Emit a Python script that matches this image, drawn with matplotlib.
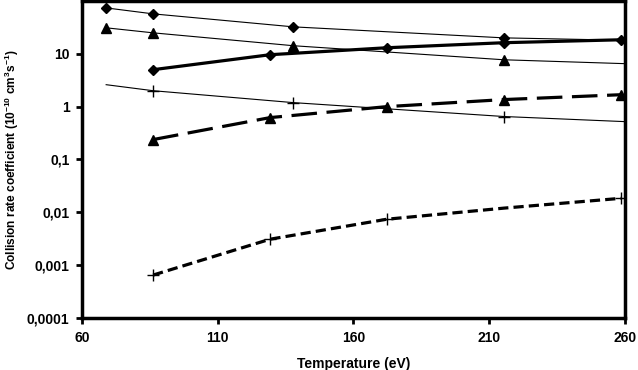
import matplotlib
matplotlib.use("Agg")
import matplotlib.pyplot as plt

plt.rcParams["font.family"] = ["Liberation Sans", "DejaVu Sans"]
plt.rcParams["mathtext.fontset"] = "custom"
plt.rcParams["mathtext.rm"] = "Liberation Sans"
plt.rcParams["mathtext.bf"] = "Liberation Sans:bold"

# temperatures in eV (0.8 ... 3 MK)
t_fit = [68.9, 86.2, 137.9, 215.4, 260.0]
t_calc = [86.2, 129.3, 172.3, 215.4, 258.5]

# thin lines
fit_diamond = [73.8, 56.9, 32.3, 20.0, 18.0]
fit_triangle = [31.0, 24.9, 14.2, 7.7, 6.5]
fit_cross = [2.6, 2.0, 1.19, 0.65, 0.52]

# thick lines
calc_diamond = [5.0, 9.6, 13.0, 16.2, 18.4]
calc_triangle = [0.238, 0.62, 1.0, 1.36, 1.68]
calc_cross = [0.00065, 0.0031, 0.0074, 0.012, 0.0184]

yticks = [1e-4, 1e-3, 1e-2, 1e-1, 1, 10]
ytick_labels = ["0,0001", "0,001", "0,01", "0,1", "1", "10"]
xticks = [60, 110, 160, 210, 260]

fig = plt.figure(figsize=(6.38, 3.70), dpi=100)
ax = fig.add_axes([0.1285, 0.1405, 0.851, 0.857])

ax.plot(t_fit, fit_diamond, color="black", lw=0.8, marker="D", ms=5,
        markevery=[0, 1, 2, 3])
ax.plot(t_fit, fit_triangle, color="black", lw=0.8, marker="^", ms=7,
        markevery=[0, 1, 2, 3])
ax.plot(t_fit, fit_cross, color="black", lw=0.8, marker="+", ms=8, mew=1,
        markevery=[1, 2, 3])

ax.plot(t_calc, calc_diamond, color="black", lw=2.3, marker="D", ms=5)
ax.plot(t_calc, calc_triangle, color="black", lw=2.3, marker="^", ms=7,
        dashes=(8, 3))
ax.plot(t_calc, calc_cross, color="black", lw=2.3, marker="+", ms=8, mew=1,
        dashes=(3.2, 1.6), markevery=[0, 1, 2, 4])

ax.set_yscale("log")
ax.set_xlim(60, 260)
ax.set_ylim(1e-4, 100)
ax.set_xticks(xticks)
ax.set_xticklabels([str(v) for v in xticks], fontweight="bold")
ax.set_yticks(yticks)
ax.set_yticklabels(ytick_labels, fontweight="bold")
ax.minorticks_off()
ax.tick_params(direction="out", length=4, width=2, labelsize=10, pad=5)

for s in ax.spines.values():
    s.set_linewidth(2.5)

ax.set_xlabel("Temperature (eV)", fontsize=10, fontweight="bold", labelpad=9)
ax.set_ylabel(r"Collision rate coefficient (10$^{\mathbf{-10}}$ cm$^{\mathbf{3}}$s$^{\mathbf{-1}}$)",
              fontsize=8.6, fontweight="bold")
ax.yaxis.set_label_coords(-0.112, 0.5)

fig.savefig("out.png", dpi=100)
